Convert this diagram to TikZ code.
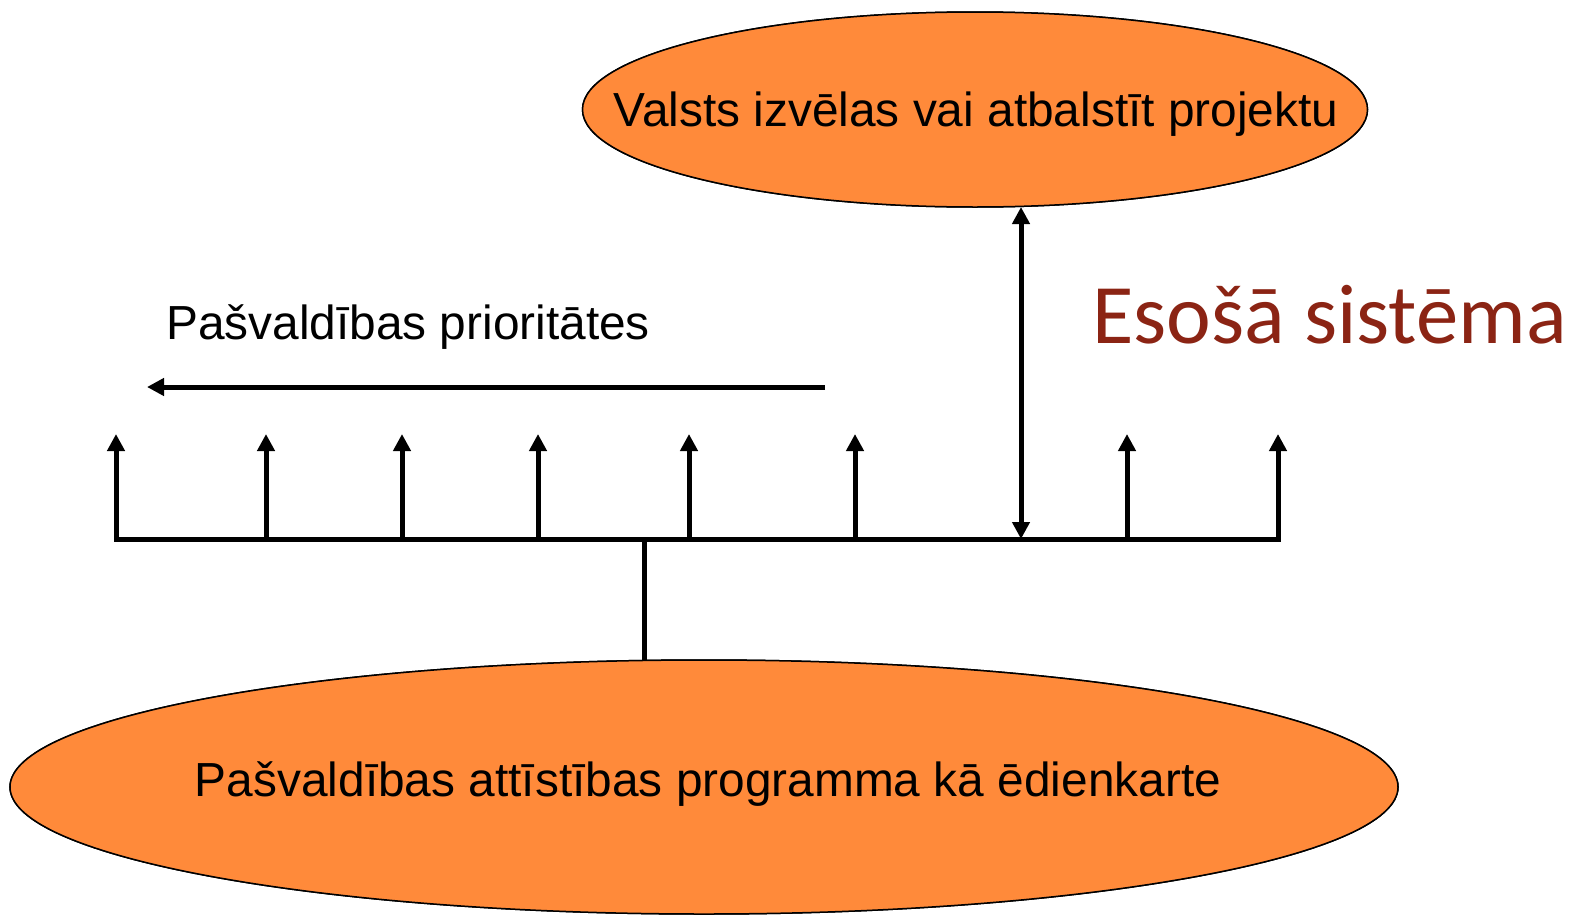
\documentclass[tikz,border=0pt]{standalone}
\usepackage{fontspec}
\setmainfont{Liberation Sans}
\newfontfamily\calib{Carlito}
\usetikzlibrary{arrows.meta,shapes.geometric}
\definecolor{orfill}{HTML}{FF8A3A}
\definecolor{darkred}{HTML}{8B2414}
\tikzset{
  blob/.style={draw=black,line width=1.5bp,fill=orfill},
  wire/.style={line width=5bp,black},
  arr/.style={wire,-{Triangle[width=17bp,length=17bp]}},
  lbl/.style={font=\fontsize{48}{56}\selectfont,inner sep=0pt}
}
\begin{document}
\begin{tikzpicture}[x=1bp,y=-1bp]
\useasboundingbox (0,0) rectangle (1571,914);
\begin{scope}
\clip (0,0) rectangle (1571,914);
\fill[blob] (975,109.5) ellipse [x radius=392.5,y radius=97.5];
\fill[blob] (704,787) ellipse [x radius=694,y radius=127];
\draw[blob] (975,109.5) ellipse [x radius=392.5,y radius=97.5];
\draw[blob] (704,787) ellipse [x radius=694,y radius=127];
\end{scope}
\node[lbl] (top) at (976,114) {Valsts izvēlas vai atbalstīt projektu};
\node[lbl] (bot) at (708,784) {Pašvaldības attīstības programma kā ēdienkarte};
\node[lbl,anchor=west] (prio) at (166,327) {Pašvaldības prioritātes};
\node[font=\calib\fontsize{85}{100}\selectfont,text=darkred,anchor=west,inner sep=0pt] (eso) at (1092,315) {Esošā sistēma};
\coordinate (topb) at (1021,207);
\coordinate (botb) at (644,660);
\coordinate (bl) at (116,539);
\coordinate (br) at (1278,539);
\coordinate (stem) at (644,539);
\coordinate (dj) at (1021,539);
\coordinate (la) at (825,387);
\coordinate (lb) at (147,387);
\draw[wire,line cap=rect] (bl) -- (br);
\draw[wire] (stem) -- (botb);
\foreach \x [count=\i] in {116,266,402,538,689,855,1127,1278}{
  \coordinate (s\i) at (\x,539);
  \coordinate (t\i) at (\x,434);
  \draw[arr] (s\i) -- (t\i);
}
\draw[wire,{Triangle[width=17bp,length=17bp]}-{Triangle[width=17bp,length=17bp]}] (dj) -- (topb);
\draw[arr] (la) -- (lb);
\end{tikzpicture}
\end{document}
